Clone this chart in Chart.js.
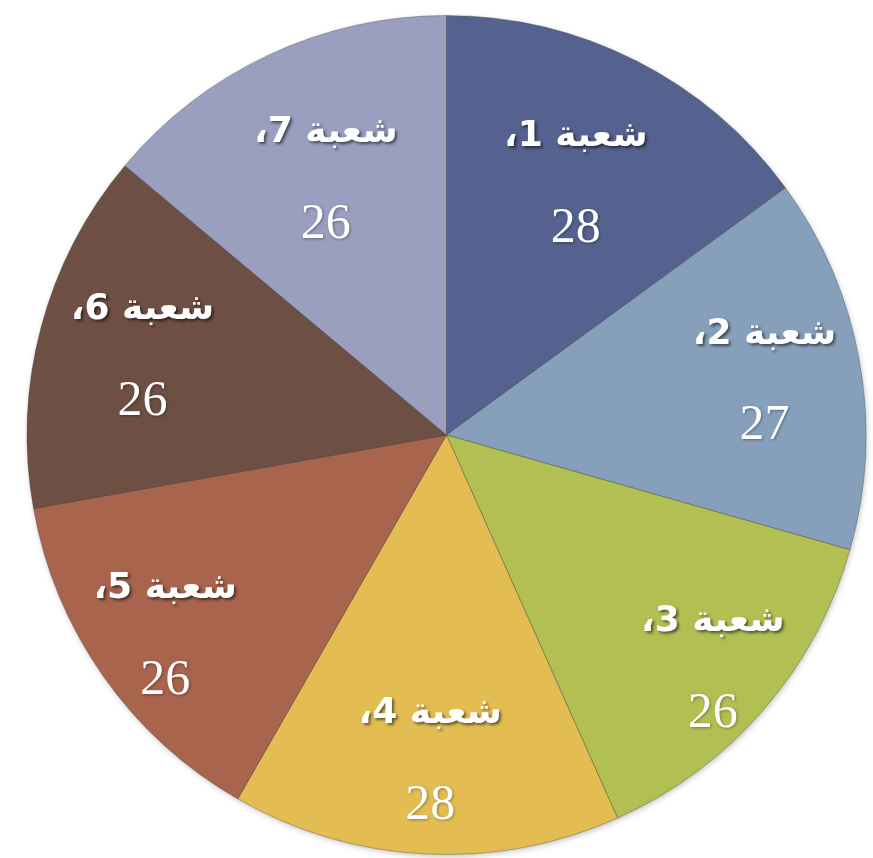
<!DOCTYPE html>
<html>
<head>
<meta charset="utf-8">
<script src="https://cdn.jsdelivr.net/npm/chart.js@4"></script>
<style>
  html, body { margin: 0; padding: 0; background: #fff; }
  #wrap { width: 873px; height: 858px; }
</style>
</head>
<body>
<div id="wrap"><canvas id="c" width="873" height="858"></canvas></div>
<script>
const categories = ["شعبة 1،", "شعبة 2،", "شعبة 3،", "شعبة 4،", "شعبة 5،", "شعبة 6،", "شعبة 7،"]
const values = [28, 27, 26, 28, 26, 26, 26]
const colors = ["#55628f", "#86a0bc", "#b2bf52", "#e4bd52", "#a8644c", "#6e4f44", "#9a9ebf"]

// labels sit at a fraction of the radius, roughly where the original puts them
const labelRadius = [0.68, 0.77, 0.84, 0.77, 0.82, 0.75, 0.68]

const sliceLabels = {
  id: "sliceLabels",
  afterDatasetsDraw(chart) {
    const ctx = chart.ctx
    const meta = chart.getDatasetMeta(0)
    meta.data.forEach((arc, i) => {
      const mid = (arc.startAngle + arc.endAngle) / 2
      const r = arc.outerRadius * labelRadius[i]
      const x = arc.x + Math.cos(mid) * r
      const y = arc.y + Math.sin(mid) * r
      ctx.save()
      ctx.textAlign = "center"
      ctx.textBaseline = "middle"
      ctx.fillStyle = "#ffffff"
      ctx.shadowColor = "rgba(0,0,0,0.55)"
      ctx.shadowOffsetX = 2
      ctx.shadowOffsetY = 2
      ctx.shadowBlur = 3
      ctx.direction = "rtl"
      ctx.font = "bold 36px 'DejaVu Sans'"
      ctx.fillText(categories[i], x, y - 44)
      ctx.direction = "ltr"
      ctx.shadowColor = "rgba(0,0,0,0.35)"
      ctx.shadowOffsetX = 1
      ctx.shadowOffsetY = 1
      ctx.font = "50px 'Liberation Serif'"
      ctx.fillText(String(values[i]), x, y + 48)
      ctx.restore()
    })
  }
}

// soft shadow round the pie, like the original
const pieShadow = {
  id: "pieShadow",
  beforeDatasetsDraw(chart) {
    const arc = chart.getDatasetMeta(0).data[0]
    if (!arc) return
    const ctx = chart.ctx
    ctx.save()
    ctx.shadowColor = "rgba(0,0,0,0.3)"
    ctx.shadowBlur = 6
    ctx.shadowOffsetX = 1
    ctx.shadowOffsetY = 2
    ctx.fillStyle = "#888"
    ctx.beginPath()
    ctx.arc(arc.x, arc.y, arc.outerRadius - 1, 0, Math.PI * 2)
    ctx.fill()
    ctx.restore()
  }
}

new Chart(document.getElementById("c"), {
  type: "pie",
  data: {
    labels: categories,
    datasets: [{
      data: values,
      backgroundColor: colors,
      borderColor: "rgba(60,60,60,0.35)",
      borderWidth: 1
    }]
  },
  options: {
    responsive: false,
    animation: false,
    layout: { padding: { top: 15, bottom: 3, left: 22, right: 2 } },
    plugins: {
      legend: { display: false },
      tooltip: { enabled: false }
    }
  },
  plugins: [pieShadow, sliceLabels]
})
</script>
</body>
</html>
